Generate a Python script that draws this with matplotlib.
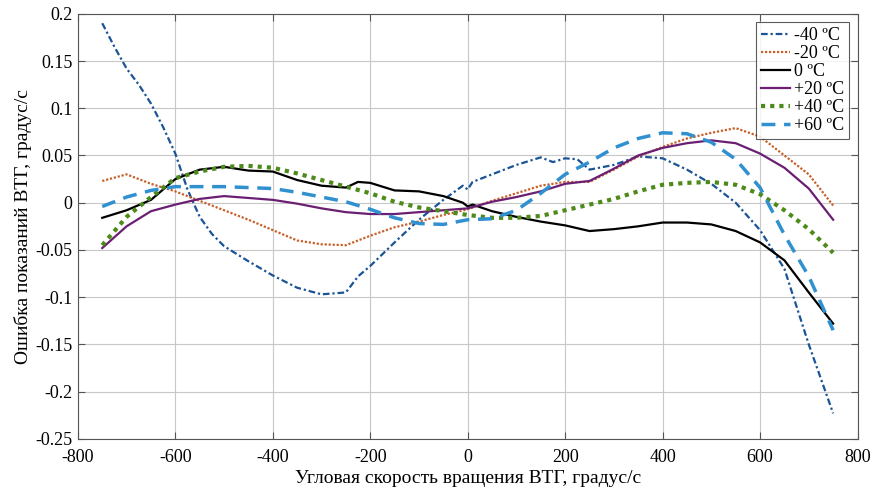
import numpy as np
import matplotlib
matplotlib.use("Agg")
import matplotlib.pyplot as plt

plt.rcParams['font.family'] = ['Liberation Serif', 'DejaVu Serif']
plt.rcParams['axes.unicode_minus'] = False

# angular rate, deg/s
x_common = [-750, -700, -650, -600, -550, -500, -450, -400, -350, -300, -250,
            -200, -150, -100, -50, 0, 50, 100, 150, 200, 250, 300, 350, 400,
            450, 500, 550, 600, 650, 700, 750]

x_m40 = [-750, -725, -700, -675, -650, -625, -600, -575, -550, -525, -500,
         -450, -400, -350, -300, -250, -225, -200, -150, -100, -50, -10, 0,
         10, 50, 100, 150, 175, 200, 225, 250, 300, 350, 400, 450, 500, 550,
         600, 650, 700, 750]
y_m40 = [0.19, 0.165, 0.142, 0.125, 0.105, 0.08, 0.052, 0.014, -0.015,
         -0.033, -0.046, -0.062, -0.077, -0.09, -0.097, -0.095, -0.078,
         -0.067, -0.042, -0.018, 0.003, 0.018, 0.014, 0.022, 0.03, 0.04,
         0.048, 0.043, 0.047, 0.046, 0.035, 0.04, 0.049, 0.047, 0.035, 0.02,
         0.0, -0.029, -0.07, -0.15, -0.223]

y_m20 = [0.023, 0.03, 0.02, 0.012, 0.002, -0.008, -0.018, -0.029, -0.04,
         -0.044, -0.045, -0.035, -0.026, -0.02, -0.013, -0.007, 0.002, 0.01,
         0.018, 0.022, 0.022, 0.035, 0.049, 0.059, 0.068, 0.074, 0.079, 0.07,
         0.05, 0.03, -0.003]

x_0 = [-750, -700, -650, -600, -550, -500, -450, -400, -350, -300, -250,
       -225, -200, -150, -100, -50, -10, 0, 10, 50, 100, 150, 200, 250, 300,
       350, 400, 450, 500, 550, 600, 650, 700, 750]
y_0 = [-0.016, -0.008, 0.003, 0.025, 0.035, 0.038, 0.034, 0.033, 0.024,
       0.018, 0.016, 0.022, 0.021, 0.013, 0.012, 0.007, 0.0, -0.004, -0.002,
       -0.009, -0.015, -0.02, -0.024, -0.03, -0.028, -0.025, -0.021, -0.021,
       -0.023, -0.03, -0.042, -0.061, -0.095, -0.128]

y_p20 = [-0.048, -0.025, -0.009, -0.002, 0.004, 0.007, 0.005, 0.003, -0.001,
         -0.006, -0.01, -0.012, -0.012, -0.01, -0.008, -0.006, 0.001, 0.006,
         0.012, 0.02, 0.023, 0.036, 0.05, 0.058, 0.063, 0.066, 0.063, 0.052,
         0.037, 0.015, -0.018]

y_p40 = [-0.045, -0.015, 0.006, 0.026, 0.033, 0.038, 0.039, 0.037, 0.031,
         0.024, 0.017, 0.01, 0.001, -0.005, -0.009, -0.013, -0.016, -0.016,
         -0.014, -0.008, -0.002, 0.004, 0.012, 0.019, 0.021, 0.022, 0.019,
         0.009, -0.008, -0.028, -0.053]

y_p60 = [-0.004, 0.006, 0.013, 0.017, 0.017, 0.017, 0.016, 0.015, 0.011,
         0.006, 0.001, -0.007, -0.016, -0.022, -0.023, -0.018, -0.017, -0.008,
         0.01, 0.03, 0.043, 0.058, 0.068, 0.074, 0.073, 0.064, 0.046, 0.016,
         -0.034, -0.078, -0.135]

labels = ['-40 ºC', '-20 ºC', '0 ºC', '+20 ºC', '+40 ºC', '+60 ºC']

fig = plt.figure(figsize=(8.75, 4.92), dpi=100)
ax = fig.add_axes([0.089, 0.108, 0.891, 0.864])

ax.plot(x_m40, y_m40, color='#1a5496', lw=1.6, linestyle=(0, (3, 1.3, 1, 1.3)), label=labels[0])
ax.plot(x_common, y_m20, color='#c8602a', lw=1.6, linestyle=(0, (1, 0.8)), label=labels[1])
ax.plot(x_0, y_0, color='black', lw=1.6, label=labels[2])
ax.plot(x_common, y_p20, color='#6b1f73', lw=1.6, label=labels[3])
ax.plot(x_common, y_p40, color='#4e8a1a', lw=3, linestyle=(0, (1, 1.2)), label=labels[4])
ax.plot(x_common, y_p60, color='#3090d0', lw=2.5, linestyle=(0, (4, 2.5)), label=labels[5])

ax.set_xlim(-800, 800)
ax.set_ylim(-0.25, 0.2)
ax.set_xticks(np.arange(-800, 801, 200))
ax.set_yticks(np.arange(-0.25, 0.201, 0.05))
ax.set_yticklabels(['-0.25', '-0.2', '-0.15', '-0.1', '-0.05', '0',
                    '0.05', '0.1', '0.15', '0.2'])
ax.grid(True, color='#c8c8c8', lw=0.8)
ax.tick_params(direction='in', top=True, right=True, labelsize=13, length=5,
               color='#555555')
ax.tick_params(axis='x', pad=7)
ax.tick_params(axis='y', pad=4)
for s in ax.spines.values():
    s.set_color('#555555')

ax.set_xlabel('Угловая скорость вращения ВТГ, градус/с', fontsize=14, labelpad=3)
ax.set_ylabel('Ошибка показаний ВТГ, градус/с', fontsize=14, labelpad=2)

leg = ax.legend(loc='upper right', fontsize=13, frameon=True, fancybox=False,
                borderaxespad=0.45, handlelength=1.6, handletextpad=0.2,
                labelspacing=0.05, borderpad=0.3)
leg.get_frame().set_edgecolor('#333333')
leg.get_frame().set_linewidth(0.8)

fig.savefig('out.png', dpi=100)
